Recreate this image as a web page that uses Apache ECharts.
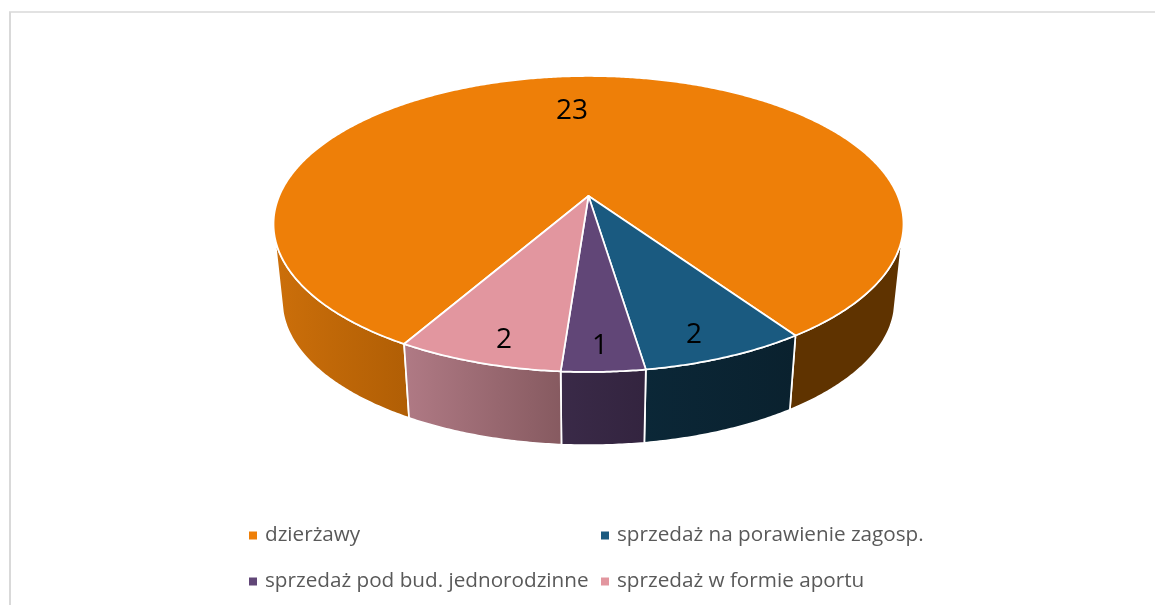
<!DOCTYPE html>
<html>
<head>
<meta charset="utf-8">
<script src="https://cdn.jsdelivr.net/npm/echarts@6/dist/echarts.min.js"></script>
<style>
html, body { margin: 0; padding: 0; background: #fff; }
#chart { width: 1155px; height: 605px; }
</style>
</head>
<body>
<div id="chart"></div>
<script>
var categories = ['dzierżawy', 'sprzedaż na porawienie zagosp.', 'sprzedaż pod bud. jednorodzinne', 'sprzedaż w formie aportu'];
var values = [23, 2, 1, 2];

var topColors = ['#ee7f08', '#1a5a80', '#614677', '#e2969f'];
// wall shading per slice: left part of the rim, right part of the rim
var wallColors = [
    [['#cc6f0a', '#b05e05'], ['#5f3300', '#5f3300']],
    [['#0b2737', '#0a212e'], ['#0b2737', '#0a212e']],
    [['#3a2a48', '#33243f'], ['#3a2a48', '#33243f']],
    [['#b07a85', '#865a60'], ['#b07a85', '#865a60']]
];

// projection of the pie disc, tilted with a little perspective
var CX = 588.5, CY = 196, A = 309.3, B = 142.7, K = 0.189;
var DEPTH = 78, SHRINK = 0.973, EDGE = 75;
var FIRST_ANGLE = 209.9;
var labelNudge = [[-9, 2], [-11, 3], [-1, 2], [9, 3]];

var total = values.reduce(function(a, b) { return a + b; }, 0);

function project(angle, r, bottom) {
    var rad = angle * Math.PI / 180;
    var u = r * Math.sin(rad);
    var v = -r * Math.cos(rad);
    var d = 1 - K * v;
    var x = A * u / d;
    var y = B * v / d;
    if (bottom) {
        return [CX + x * SHRINK, CY + y * SHRINK + DEPTH];
    }
    return [CX + x, CY + y];
}

function arc(from, to, r, bottom) {
    var pts = [];
    var steps = Math.max(2, Math.ceil(Math.abs(to - from) * 2));
    for (var i = 0; i <= steps; i++) {
        pts.push(project(from + (to - from) * i / steps, r, bottom));
    }
    return pts;
}

function wall(from, to, colors) {
    return {
        type: 'polygon',
        shape: { points: arc(from, to, 1, false).concat(arc(to, from, 1, true)) },
        style: {
            fill: new echarts.graphic.LinearGradient(0, 0, 1, 0, [
                { offset: 0, color: colors[0] },
                { offset: 1, color: colors[1] }
            ]),
            stroke: '#fff',
            lineWidth: 1.75,
            lineJoin: 'round'
        }
    };
}

function renderSlice(params, api) {
    var idx = params.seriesIndex;
    var before = 0;
    for (var i = 0; i < idx; i++) before += values[i];
    var start = FIRST_ANGLE + before / total * 360;
    var end = start + api.value(0) / total * 360;
    var children = [];

    // front facing part of the rim, checked on this turn and the next one
    [0, 360].forEach(function(turn) {
        var lo = Math.max(start, 180 - EDGE + turn);
        var hi = Math.min(end, 180 + EDGE + turn);
        if (hi > lo) {
            var rightSide = (lo + hi) / 2 - turn < 180 - 20 && idx === 0;
            children.push(wall(lo, hi, wallColors[idx][rightSide ? 1 : 0]));
        }
    });

    children.push({
        type: 'polygon',
        shape: { points: [project(0, 0, false)].concat(arc(start, end, 1, false)) },
        style: { fill: topColors[idx], stroke: '#fff', lineWidth: 1.75, lineJoin: 'round' }
    });

    var labelPos = project((start + end) / 2, (end - start) > 180 ? 0.69 : 0.87, false);
    children.push({
        type: 'text',
        z2: 10,
        style: {
            x: labelPos[0] + labelNudge[idx][0],
            y: labelPos[1] + labelNudge[idx][1],
            text: String(api.value(0)),
            fill: '#000',
            font: '28px "Open Sans"',
            align: 'center',
            verticalAlign: 'middle'
        }
    });
    return { type: 'group', children: children };
}

var legendPlace = [[249, 525], [601, 525], [249, 571], [601, 571]];

var chart = echarts.init(document.getElementById('chart'));
chart.setOption({
    animation: false,
    backgroundColor: '#fff',
    legend: categories.map(function(name, i) {
        return {
            data: [name],
            left: legendPlace[i][0],
            top: legendPlace[i][1],
            padding: 0,
            icon: 'rect',
            itemWidth: 8,
            itemHeight: 8,
            selectedMode: false,
            textStyle: {
                fontFamily: 'Open Sans',
                fontSize: 20.7,
                color: '#595959',
                padding: [0, 0, 0, 3]
            }
        };
    }),
    graphic: [
        { type: 'line', shape: { x1: 10, y1: 12, x2: 10, y2: 605 }, style: { stroke: '#d9d9d9', lineWidth: 2 }, silent: true },
        { type: 'line', shape: { x1: 9, y1: 12, x2: 1155, y2: 12 }, style: { stroke: '#d9d9d9', lineWidth: 1.5 }, silent: true }
    ],
    series: categories.map(function(name, i) {
        return {
            type: 'custom',
            name: name,
            coordinateSystem: 'none',
            silent: true,
            itemStyle: { color: topColors[i] },
            renderItem: renderSlice,
            data: [[values[i]]]
        };
    })
});
</script>
</body>
</html>
